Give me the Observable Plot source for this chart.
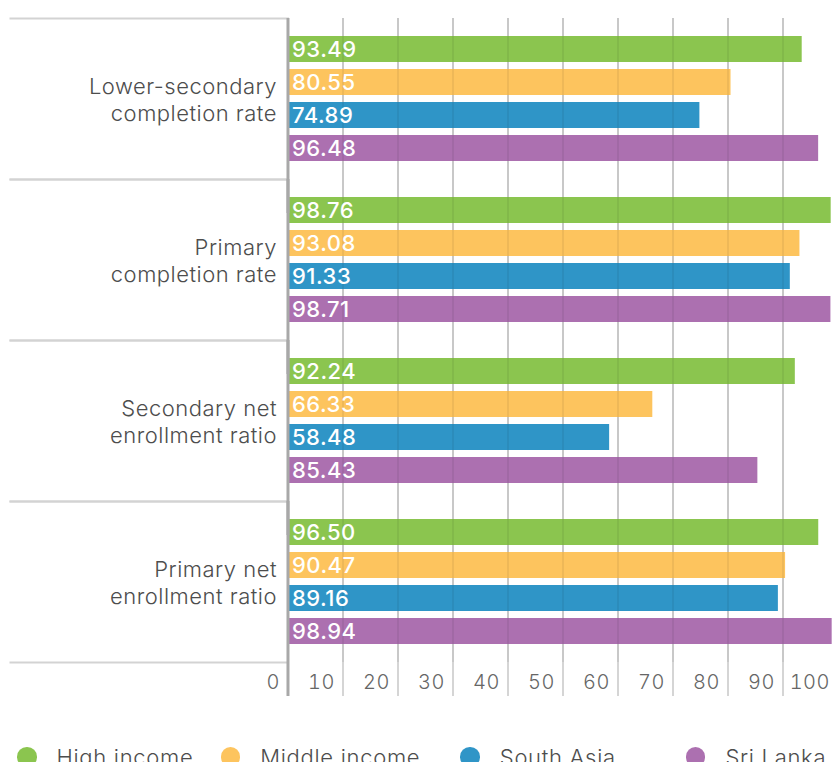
<!DOCTYPE html>
<html>
<head>
<meta charset="utf-8">
<script src="https://cdn.jsdelivr.net/npm/d3@7"></script>
<script src="https://cdn.jsdelivr.net/npm/@observablehq/plot@0.6"></script>
<style>
  html, body { margin: 0; padding: 0; background: #fff; overflow: hidden; }
  #chart svg { display: block; }
  #chart svg text { letter-spacing: 0.5px; }
  #legend { display: flex; align-items: center; margin-top: 50px; padding-left: 17px;
            font-family: Inter, sans-serif; font-size: 22px; font-weight: 300; letter-spacing: 0.7px;
            color: #4d4d4d; white-space: nowrap; }
  #legend .item { display: flex; align-items: center; height: 20px; }
  #legend .dot { width: 19.5px; height: 19.5px; border-radius: 50%; margin-right: 20px; flex: none; }
</style>
</head>
<body>
<div id="chart"></div>
<div id="legend"></div>
<script>
const categories = [
  "Lower-secondary completion rate",
  "Primary completion rate",
  "Secondary net enrollment ratio",
  "Primary net enrollment ratio"
];
const categoryLabels = [
  "Lower-secondary\ncompletion rate",
  "Primary\ncompletion rate",
  "Secondary net\nenrollment ratio",
  "Primary net\nenrollment ratio"
];
const series = ["High income", "Middle income", "South Asia", "Sri Lanka"];
const highIncome   = [93.49, 98.76, 92.24, 96.50];
const middleIncome = [80.55, 93.08, 66.33, 90.47];
const southAsia    = [74.89, 91.33, 58.48, 89.16];
const sriLanka     = [96.48, 98.71, 85.43, 98.94];
const xTicks = [0, 10, 20, 30, 40, 50, 60, 70, 80, 90, 100];
const colors = ["#8bc54f", "#fdc45e", "#2f95c7", "#ac70b0"];

const seriesValues = [highIncome, middleIncome, southAsia, sriLanka];
const data = categories.flatMap((c, i) =>
  series.map((s, j) => ({category: c, series: s, value: seriesValues[j][i]}))
);

const chart = Plot.plot({
  width: 835,
  height: 697,
  marginTop: 17,
  marginBottom: 34,
  marginLeft: 10,
  marginRight: 0,
  style: {fontFamily: "Inter, sans-serif", background: "white", overflow: "hidden"},
  x: {domain: [-50.45, 100], range: [10, 837.5], axis: null},
  y: {domain: series, paddingInner: 0.2, paddingOuter: 0.525, axis: null},
  fy: {domain: categories, padding: 0, axis: null},
  color: {domain: series, range: colors},
  marks: [
    Plot.frame({anchor: "top", stroke: "#d3d3d3", strokeWidth: 2, insetRight: 547.5}),
    Plot.frame({anchor: "bottom", stroke: "#d3d3d3", strokeWidth: 2, insetRight: 547.5}),
    Plot.ruleX(xTicks.slice(1, 10), {stroke: "#d5d5d5", strokeWidth: 2, insetBottom: -34}),
    Plot.barX(data, {fy: "category", y: "series", x: "value", fill: "series"}),
    Plot.ruleX(xTicks.slice(1, 10), {stroke: "#000", strokeOpacity: 0.06, strokeWidth: 2}),
    Plot.ruleX([0], {stroke: "#a8a8a8", strokeWidth: 3, insetBottom: -34}),
    Plot.text(data, {
      fy: "category", y: "series", x: 0,
      text: d => d.value.toFixed(2),
      textAnchor: "start", dx: 4, fill: "white", fontSize: 22, fontWeight: 500
    }),
    Plot.text(categories, {
      fy: d => d, x: 0,
      text: d => categoryLabels[categories.indexOf(d)],
      textAnchor: "end", dx: -11, fontSize: 22, fontWeight: 300, lineHeight: 1.2, fill: "#4d4d4d"
    }),
    Plot.axisX(xTicks, {
      label: null, tickSize: 0, tickPadding: 20, lineAnchor: "middle",
      textAnchor: "end", dx: -8, fontSize: 20, fontWeight: 300, fill: "#666"
    })
  ]
});
document.getElementById("chart").append(chart);

const itemWidths = [205, 241, 227, 150];
const legend = document.getElementById("legend");
series.forEach((s, i) => {
  const item = document.createElement("div");
  item.className = "item";
  item.style.width = itemWidths[i] + "px";
  const dot = document.createElement("span");
  dot.className = "dot";
  dot.style.background = colors[i];
  const label = document.createElement("span");
  label.textContent = s;
  item.append(dot, label);
  legend.append(item);
});
</script>
</body>
</html>
